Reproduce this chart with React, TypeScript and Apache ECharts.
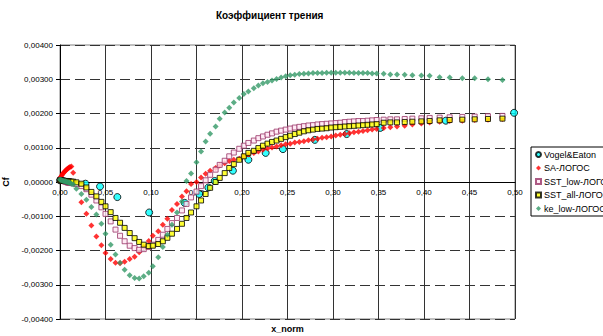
import React, { useEffect, useRef } from "react";
import * as echarts from "echarts";

// Cf values below are given in units of 1e-3
const CF_UNIT = 0.001;

const vogelX = [0, 0.028, 0.044, 0.063, 0.098, 0.137, 0.153, 0.163, 0.17, 0.19, 0.207, 0.226, 0.245, 0.28, 0.315, 0.352, 0.424, 0.499];
const vogelCf = [0.05, -0.05, -0.13, -0.44, -0.89, -0.61, -0.35, -0.16, 0.03, 0.33, 0.65, 0.85, 0.96, 1.23, 1.4, 1.58, 1.79, 2.02];

const xGrid = [
  0, 0.001, 0.002, 0.003, 0.004, 0.005, 0.006, 0.007, 0.008, 0.009, 0.01, 0.011, 0.0125, 0.0145, 0.018,
  0.0235, 0.029, 0.0345, 0.04, 0.0455, 0.05, 0.0557, 0.061, 0.066, 0.071,
  0.0766, 0.082, 0.087, 0.092, 0.0975, 0.102, 0.108, 0.113, 0.118, 0.123,
  0.1286, 0.134, 0.139, 0.144, 0.15, 0.155, 0.16, 0.165, 0.171, 0.1755,
  0.181, 0.186, 0.191, 0.197, 0.202, 0.207, 0.213, 0.218, 0.223, 0.228,
  0.233, 0.238, 0.243, 0.248, 0.253, 0.258, 0.263, 0.268, 0.273, 0.278,
  0.283, 0.288, 0.293, 0.298, 0.303, 0.308, 0.313, 0.318, 0.323, 0.328,
  0.333, 0.338, 0.343, 0.348,
  0.3557, 0.363, 0.3703, 0.3788, 0.3872, 0.3971, 0.4062, 0.4172, 0.4282, 0.4421, 0.4557, 0.4703, 0.4862,
];

const saCf = [
  0.1, 0.15, 0.2, 0.24, 0.27, 0.3, 0.33, 0.36, 0.38, 0.4, 0.42, 0.44, 0.45, 0.27, null,
  -0.59, -0.93, -1.27, -1.59, -1.85, -2.07, -2.25, -2.36, -2.37, -2.33,
  -2.25, -2.18, -2.05, -1.9, -1.72, -1.57, -1.44, -1.25, -1.07, -0.82,
  -0.64, -0.42, -0.27, -0.06, 0.0, 0.13, 0.24, 0.33, 0.41, 0.48,
  0.55, 0.61, 0.65, 0.68, 0.75, 0.8, 0.85, 0.89, 0.94, 0.98,
  1.01, 1.04, 1.07, 1.1, 1.12, 1.15, 1.17, 1.19, 1.22, 1.24,
  1.26, 1.29, 1.31, 1.33, 1.36, 1.38, 1.4, 1.42, 1.45, 1.47,
  1.49, 1.51, 1.53, 1.55,
  1.58, 1.6, 1.62, 1.64, 1.68, 1.71, 1.74, 1.76, 1.78, 1.79, 1.81, 1.82, 1.84,
];

const sstLowCf = [
  0.06, 0.05, 0.05, 0.04, 0.03, 0.02, 0.01, 0.0, -0.01, -0.02, -0.02, -0.03, -0.03, -0.04, -0.06,
  -0.12, -0.21, -0.37, -0.54, -0.74, -0.93, -1.15, -1.39, -1.57, -1.73,
  -1.86, -1.93, -1.98, -1.96, -1.9, -1.83, -1.69, -1.54, -1.37, -1.2,
  -1.05, -0.83, -0.64, -0.45, -0.28, -0.12, 0.05, 0.21, 0.36, 0.5,
  0.62, 0.75, 0.86, 0.97, 1.06, 1.14, 1.21, 1.28, 1.33, 1.38,
  1.42, 1.47, 1.5, 1.53, 1.56, 1.59, 1.61, 1.63, 1.65, 1.66,
  1.68, 1.69, 1.7, 1.71, 1.72, 1.73, 1.75, 1.76, 1.77, 1.78,
  1.78, 1.79, 1.8, 1.81,
  1.82, 1.83, 1.83, 1.84, 1.85, 1.86, 1.87, 1.88, 1.89, 1.9, 1.91, 1.92, 1.93,
];

const sstAllCf = [
  0.05, 0.05, 0.04, 0.04, 0.04, 0.03, 0.03, 0.03, 0.02, 0.02, 0.02, 0.01, 0.01, 0.01, -0.01,
  -0.05, -0.16, -0.29, -0.42, -0.58, -0.71, -0.88, -1.05, -1.19, -1.34,
  -1.49, -1.64, -1.75, -1.83, -1.87, -1.86, -1.81, -1.73, -1.63, -1.51,
  -1.37, -1.22, -1.05, -0.89, -0.71, -0.54, -0.35, -0.17, 0.0, 0.12,
  0.26, 0.41, 0.52, 0.65, 0.75, 0.85, 0.91, 0.99, 1.06, 1.12,
  1.17, 1.21, 1.26, 1.31, 1.35, 1.4, 1.44, 1.48, 1.51, 1.53,
  1.55, 1.56, 1.57, 1.59, 1.6, 1.61, 1.62, 1.63, 1.64, 1.65,
  1.66, 1.67, 1.68, 1.69,
  1.73, 1.74, 1.74, 1.75, 1.76, 1.77, 1.78, 1.8, 1.81, 1.82, 1.83, 1.84, 1.85,
];

const keLowCf = [
  0.07, 0.06, 0.05, 0.04, 0.03, 0.02, 0.02, 0.01, 0.0, -0.01, -0.02, -0.03, -0.05, -0.07, -0.2,
  -0.35, -0.52, -0.73, -0.95, -1.22, -1.51, -1.83, -2.12, -2.36, -2.56,
  -2.72, -2.8, -2.82, -2.75, -2.65, -2.46, -2.2, -1.9, -1.54, -1.25,
  -0.89, -0.57, 0.03, 0.25, 0.58, 0.89, 1.18, 1.41, 1.62, 1.85,
  2.03, 2.17, 2.32, 2.45, 2.57, 2.64, 2.74, 2.82, 2.88, 2.92,
  2.96, 3.01, 3.05, 3.09, 3.12, 3.13, 3.15, 3.16, 3.17, 3.18,
  3.18, 3.18, 3.19, 3.19, 3.19, 3.19, 3.19, 3.19, 3.18, 3.18,
  3.18, 3.18, 3.17, 3.17,
  3.16, 3.14, 3.14, 3.13, 3.12, 3.11, 3.1, 3.06, 3.05, 3.03, 3.03, 3.0, 2.98,
];

const seriesNames = ["Vogel&Eaton", "SA-ЛОГОС", "SST_low-ЛОГОС", "SST_all-ЛОГОС", "ke_low-ЛОГОС"];

const FONT = "'Liberation Sans', Arial, sans-serif";

// plot box (px)
const GRID_TOP = 45;
const GRID_BOTTOM = 17;
const CHART_H = 336;

function pairs(xs: number[], ys: (number | null)[]) {
  const out: number[][] = [];
  xs.forEach((x, i) => {
    const y = ys[i];
    if (y !== null && y !== undefined) out.push([x, y * CF_UNIT]);
  });
  return out;
}

const fmtY = (v: number) => {
  const s = Math.abs(v) < 1e-12 ? "0.00000" : v.toFixed(5);
  return s.replace(".", ",");
};
const fmtX = (v: number) => v.toFixed(2).replace(".", ",");

export default function App() {
  const ref = useRef<HTMLDivElement>(null);
  useEffect(() => {
    if (!ref.current) return;
    const chart = echarts.init(ref.current, undefined, { renderer: "svg" });
    const base = { type: "scatter", clip: false, emphasis: { disabled: true } };
    // the y range is symmetric, so the zero line sits at the middle of the plot
    const zeroOffset = -(CHART_H - GRID_TOP - GRID_BOTTOM) / 2;
    chart.setOption({
      animation: false,
      backgroundColor: "#ffffff",
      textStyle: { fontFamily: FONT },
      title: {
        text: "Коэффициент трения",
        left: 216,
        top: 10,
        padding: 0,
        textStyle: { fontSize: 10, fontWeight: "bold", color: "#000", fontFamily: FONT },
      },
      legend: {
        orient: "vertical",
        left: 531,
        top: 147,
        padding: [2, 4, 2, 4],
        borderColor: "#000",
        borderWidth: 1,
        backgroundColor: "#fff",
        itemWidth: 5,
        itemHeight: 5,
        itemGap: 2.5,
        textStyle: { fontSize: 9, lineHeight: 11, color: "#000", fontFamily: FONT, padding: [0, 0, 0, -2] },
        data: seriesNames,
      },
      grid: {
        left: 60,
        right: 88,
        top: GRID_TOP,
        bottom: GRID_BOTTOM,
        containLabel: false,
        outerBoundsMode: "none",
        show: true,
        borderColor: "#808080",
        borderWidth: 1,
        backgroundColor: "#fff",
      },
      xAxis: {
        type: "value",
        min: 0,
        max: 0.5,
        interval: 0.05,
        position: "bottom",
        offset: zeroOffset,
        name: "x_norm",
        nameLocation: "middle",
        nameGap: 142,
        nameTextStyle: { fontSize: 9, fontWeight: "bold", color: "#000", fontFamily: FONT },
        axisLine: { onZero: false, lineStyle: { color: "#000", width: 1 } },
        axisTick: { show: false },
        axisLabel: { fontSize: 8, color: "#000", margin: 6, formatter: fmtX, fontFamily: FONT },
        splitLine: { show: true, lineStyle: { color: "#333", width: 1 } },
      },
      yAxis: {
        type: "value",
        min: -0.004,
        max: 0.004,
        interval: 0.001,
        name: "Cf",
        nameLocation: "middle",
        nameGap: 40,
        nameRotate: 90,
        nameTextStyle: { fontSize: 9, fontWeight: "bold", color: "#000", fontFamily: FONT },
        axisLine: { show: true, onZero: false, lineStyle: { color: "#000", width: 1 } },
        axisTick: { show: true, length: 4, lineStyle: { color: "#000" } },
        axisLabel: { fontSize: 8, color: "#000", margin: 7, formatter: fmtY, fontFamily: FONT },
        splitLine: { show: true, lineStyle: { color: "#333", width: 1, type: [10, 5] } },
      },
      series: [
        {
          ...base,
          name: seriesNames[0],
          symbol: "circle",
          symbolSize: 7,
          itemStyle: { color: "#00FFFF", borderColor: "#000", borderWidth: 1 },
          data: pairs(vogelX, vogelCf),
        },
        {
          ...base,
          name: seriesNames[1],
          symbol: "diamond",
          symbolSize: 6,
          itemStyle: { color: "#FF0000" },
          data: pairs(xGrid, saCf),
        },
        {
          ...base,
          name: seriesNames[2],
          symbol: "rect",
          symbolSize: 5,
          itemStyle: { color: "#FFE6F2", borderColor: "#993366", borderWidth: 1 },
          data: pairs(xGrid, sstLowCf),
        },
        {
          ...base,
          name: seriesNames[3],
          symbol: "rect",
          symbolSize: 5,
          itemStyle: { color: "#FFFF00", borderColor: "#000", borderWidth: 1 },
          data: pairs(xGrid, sstAllCf),
        },
        {
          ...base,
          name: seriesNames[4],
          symbol: "diamond",
          symbolSize: 6,
          itemStyle: { color: "#339966" },
          data: pairs(xGrid, keLowCf),
        },
      ],
    });
    return () => chart.dispose();
  }, []);
  return (
    <div
      ref={ref}
      style={{ position: "fixed", left: 0, top: 0, width: 603, height: 336, background: "#fff" }}
    />
  );
}
